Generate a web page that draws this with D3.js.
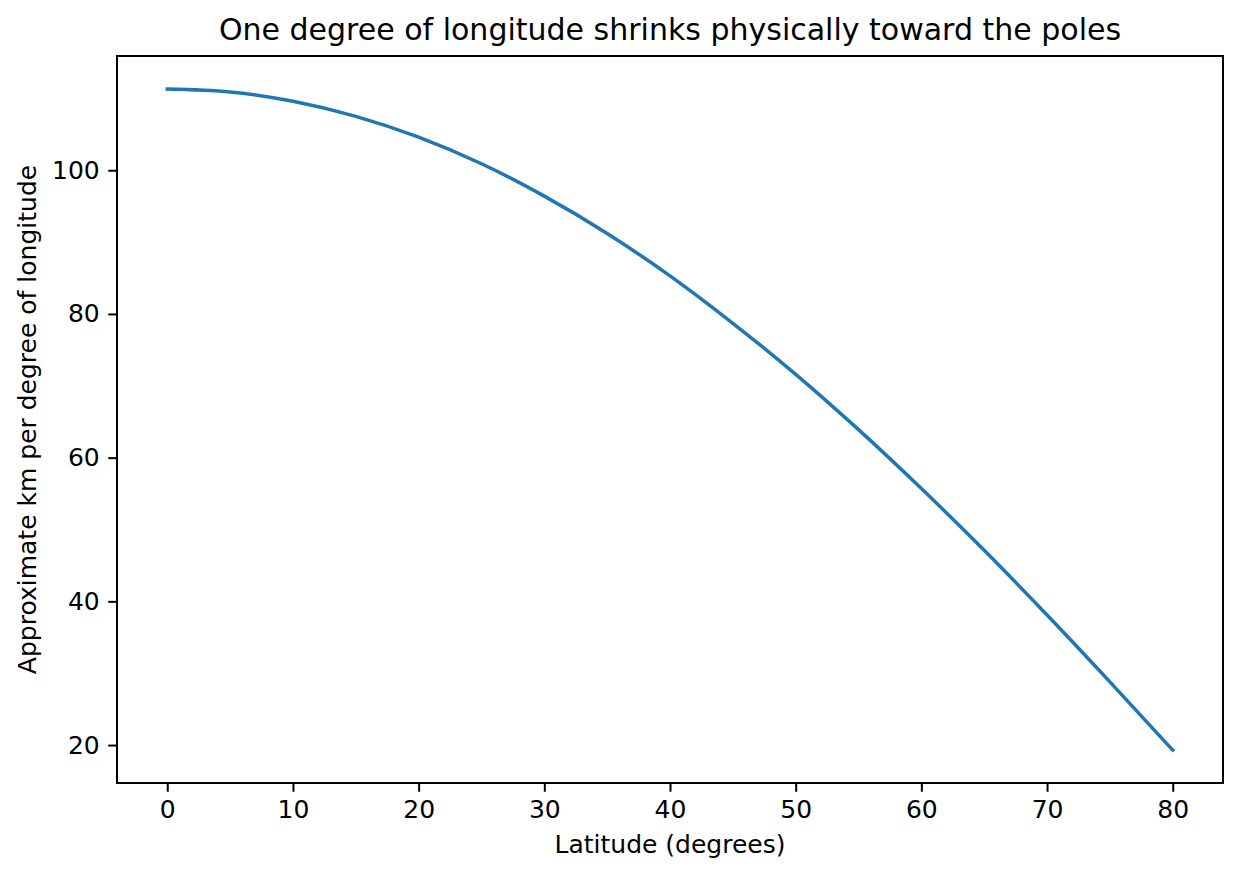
<!DOCTYPE html>
<html>
<head>
<meta charset="utf-8">
<script src="https://cdn.jsdelivr.net/npm/d3@7"></script>
<style>
  body { margin: 0; background: #fff; }
  text { font-family: "DejaVu Sans", sans-serif; fill: #000; }
</style>
</head>
<body>
<svg id="chart" width="1240" height="877" viewBox="0 0 1240 877"></svg>
<script>
// latitude (degrees) and approximate km per degree of longitude
const latitudes = [0, 5, 10, 15, 20, 25, 30, 35, 40, 45, 50, 55, 60, 65, 70, 75, 80];
const kmPerDegree = [111.3, 110.9, 109.6, 107.5, 104.6, 100.9, 96.4, 91.2, 85.3, 78.7, 71.6, 63.9, 55.7, 47.1, 38.1, 28.8, 19.3];
const xTicks = [0, 10, 20, 30, 40, 50, 60, 70, 80];
const yTicks = [20, 40, 60, 80, 100];

const svg = d3.select("#chart");

/* plot area */
const plot = {left: 117, right: 1223, top: 56, bottom: 783};

let x = d3.scaleLinear().domain([-4, 84]).range([plot.left, plot.right]);
let y = d3.scaleLinear().domain([14.72, 115.9]).range([plot.bottom, plot.top]);

let data = latitudes.map((lat, i) => ({lat: lat, km: kmPerDegree[i]}));

/* ----- line ----- */
let line = d3.line()
    .x(d => x(d.lat))
    .y(d => y(d.km))
    .curve(d3.curveMonotoneX);

svg.append("path")
    .datum(data)
    .attr("d", line)
    .attr("fill", "none")
    .attr("stroke", "#1f77b4")
    .attr("stroke-width", 3.5)
    .attr("stroke-linecap", "square");

/* ----- axes ----- */
let xAxis = svg.append("g")
    .attr("transform", `translate(0,${plot.bottom})`)
    .call(d3.axisBottom(x).tickValues(xTicks).tickSize(8.75).tickPadding(8.5).tickFormat(d3.format("d")));

let yAxis = svg.append("g")
    .attr("transform", `translate(${plot.left},0)`)
    .call(d3.axisLeft(y).tickValues(yTicks).tickSize(8.75).tickPadding(8.5).tickFormat(d3.format("d")));

[xAxis, yAxis].forEach(g => {
    g.select(".domain").remove();
    g.selectAll(".tick line").attr("stroke", "#000").attr("stroke-width", 2);
    g.selectAll(".tick text")
        .attr("font-family", "DejaVu Sans")
        .attr("font-size", 25);
});

// frame round the plot area
svg.append("rect")
    .attr("x", plot.left)
    .attr("y", plot.top)
    .attr("width", plot.right - plot.left)
    .attr("height", plot.bottom - plot.top)
    .attr("fill", "none")
    .attr("stroke", "#000")
    .attr("stroke-width", 2);

/* ----- labels ----- */
svg.append("text")
    .attr("x", (plot.left + plot.right) / 2)
    .attr("y", 39.5)
    .attr("text-anchor", "middle")
    .attr("font-size", 30)
    .text("One degree of longitude shrinks physically toward the poles");

svg.append("text")
    .attr("x", (plot.left + plot.right) / 2)
    .attr("y", 853)
    .attr("text-anchor", "middle")
    .attr("font-size", 25)
    .text("Latitude (degrees)");

svg.append("text")
    .attr("transform", `translate(36,${(plot.top + plot.bottom) / 2}) rotate(-90)`)
    .attr("text-anchor", "middle")
    .attr("font-size", 25)
    .text("Approximate km per degree of longitude");
</script>
</body>
</html>
